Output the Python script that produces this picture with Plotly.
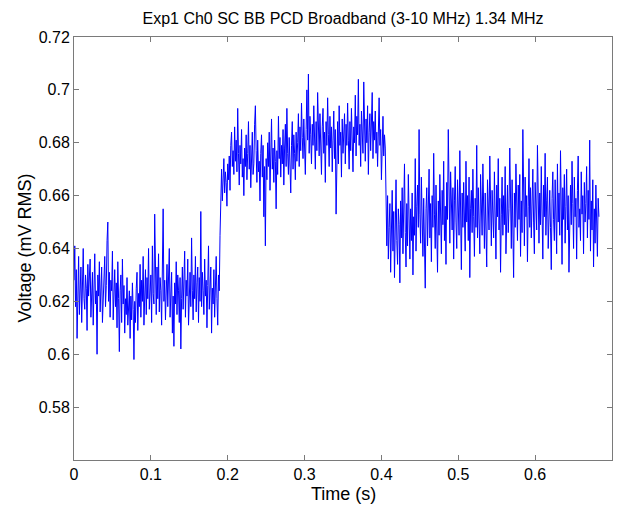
import numpy as np
import plotly.graph_objects as go

# Broadband PCD RMS voltage, sampled every 1 ms, values in microvolts
sample_interval_s = 0.001

baseline_uv = [
    628, 641, 618, 632, 606, 624, 637, 615, 629, 633, 612, 626, 640, 621, 617, 630, 625, 609, 634, 622,
    627, 636, 614, 623, 631, 611, 628, 638, 619, 624, 600, 630, 622, 635, 616, 627, 633, 612, 621, 629,
    637, 618, 626, 643, 650, 620, 631, 614, 628, 624, 639, 613, 622, 632, 618, 627, 610, 635, 621, 601,
    624, 630, 612, 636, 619, 626, 608, 621, 615, 629, 611, 618, 624, 606, 622, 613, 627, 617, 598, 620,
    612, 625, 631, 609, 623, 618, 634, 614, 628, 620, 637, 611, 626, 632, 615, 629, 621, 640, 617, 625,
    630, 612, 641, 623, 619, 653, 627, 615, 633, 621, 638, 616, 629, 624, 611, 636, 655, 620, 628, 613,
    626, 634, 618, 629, 640, 614, 623, 631, 608, 622, 603, 627, 619, 635, 615, 630, 624, 612, 629, 602,
    621, 633, 617, 626, 639, 614, 628, 622, 636, 611, 625, 631, 618, 644, 624, 613, 630, 621, 637, 616,
    627, 633, 612, 629, 620, 654, 618, 631, 624, 615, 636, 622, 628, 610, 626, 641, 617, 623, 633, 608,
    625, 619, 632, 614, 629, 637, 621, 611, 630, 624, 645,
]

exposure_uv = [
    663, 670, 658, 667, 674, 661, 669, 665, 656, 672, 666, 675, 662, 679, 684, 671, 677, 668, 686, 673,
    681, 669, 693, 676, 664, 679, 672, 685, 667, 674, 660, 678, 671, 683, 666, 676, 688, 670, 679, 663,
    675, 684, 668, 672, 687, 694, 677, 665, 681, 669, 673, 658, 676, 683, 667, 679, 652, 671, 641, 674,
    666, 680, 671, 684, 662, 676, 689, 670, 678, 665, 681, 673, 655, 677, 668, 690, 674, 682, 667, 679,
    672, 685, 664, 678, 687, 671, 693, 676, 668, 682, 674, 661, 679, 688, 670, 683, 676, 666, 684, 673,
    680, 691, 671, 686, 677, 695, 682, 674, 689, 679, 668, 685, 700, 681, 706, 676, 690, 683, 672, 687,
    679, 694, 684, 670, 688, 677, 699, 682, 675, 691, 680, 668, 686, 693, 676, 684, 665, 688, 679, 697,
    683, 671, 690, 678, 686, 669, 681, 692, 674, 685, 653, 680, 688, 672, 694, 679, 684, 667, 689, 676,
    683, 691, 672, 687, 679, 695, 681, 670, 688, 677, 693, 684, 669, 686, 680, 698, 675, 690, 683, 704,
    679, 687, 671, 692, 683, 676, 703, 685, 673, 689, 680, 694, 668, 684, 691, 677, 686, 699, 674, 688,
    681, 692, 676, 684, 671, 689, 697, 679, 685, 666, 682, 690, 675, 683, 678,
]

recovery_uv = [
    652, 641, 660, 636, 648, 657, 631, 645, 662, 639, 654, 629, 647, 666, 643, 634, 655, 649, 627, 658,
    644, 663, 638, 651, 672, 646, 633, 657, 641, 668, 649, 636, 655, 643, 661, 630, 652, 645, 674, 639,
    656, 664, 648, 685, 653, 642, 667, 650, 637, 659, 646, 625, 655, 663, 641, 651, 670, 644, 657, 635,
    660, 648, 676, 653, 640, 664, 651, 631, 658, 645, 668, 654, 638, 662, 649, 673, 643, 656, 634, 665,
    651, 685, 659, 642, 669, 655, 647, 663, 636, 658, 671, 650, 640, 666, 653, 645, 677, 657, 632, 661,
    648, 665, 654, 639, 673, 650, 660, 643, 667, 629, 655, 662, 646, 670, 652, 637, 659, 648, 679, 644,
    663, 651, 638, 668, 655, 645, 672, 658, 640, 661, 650, 633, 666, 654, 647, 675, 657, 641, 662, 651,
    644, 669, 656, 636, 664, 652, 674, 647, 659, 631, 653, 667, 645, 660, 649, 671, 638, 657, 664, 646,
    655, 678, 650, 640, 666, 653, 629, 661, 648, 672, 657, 643, 664, 651, 668, 637, 658, 646, 685, 654,
    641, 667, 652, 660, 635, 656, 674, 648, 663, 644, 659, 670, 650, 638, 665, 653, 647, 679, 657, 642,
    661, 649, 671, 655, 636, 664, 652, 676, 645, 658, 667, 640, 654, 662, 648, 632, 659, 669, 651, 643,
    666, 655, 638, 672, 650, 661, 645, 677, 657, 634, 663, 651, 668, 642, 656, 670, 647, 660, 631, 654,
    664, 649, 673, 657, 640, 667, 652, 659, 636, 662, 675, 648, 655, 643, 669, 653, 660, 638, 665, 650,
    657, 671, 644, 662, 651, 681, 639, 658, 647, 666, 633, 655, 642, 664, 650, 637, 659, 652,
]

x_tick_vals = [0, 0.1, 0.2, 0.3, 0.4, 0.5, 0.6, 0.7]
x_tick_text = ["0", "0.1", "0.2", "0.3", "0.4", "0.5", "0.6", "0.7"]
y_tick_vals = [0.58, 0.60, 0.62, 0.64, 0.66, 0.68, 0.70, 0.72]
y_tick_text = ["0.58", "0.6", "0.62", "0.64", "0.66", "0.68", "0.7", "0.72"]

voltage_mv = np.array(baseline_uv + exposure_uv + recovery_uv) / 1000.0
time_s = np.arange(len(voltage_mv)) * sample_interval_s

FONT = "Liberation Sans, Arial, sans-serif"
AXIS_GREY = "#7a7a7a"

fig = go.Figure(
    go.Scatter(
        x=time_s,
        y=voltage_mv,
        mode="lines",
        line=dict(color="#0000ff", width=1.0),
        hoverinfo="skip",
    )
)

axis_common = dict(
    showline=True,
    linecolor=AXIS_GREY,
    linewidth=1,
    mirror="ticks",
    ticks="inside",
    ticklen=5,
    tickcolor=AXIS_GREY,
    showgrid=False,
    zeroline=False,
    tickfont=dict(family=FONT, size=16, color="#000000"),
)

fig.update_xaxes(
    range=[0, 0.7],
    tickvals=x_tick_vals,
    ticktext=x_tick_text,
    **axis_common,
)
fig.update_yaxes(
    range=[0.56, 0.72],
    tickvals=y_tick_vals,
    ticktext=y_tick_text,
    **axis_common,
)

fig.update_layout(
    width=623,
    height=507,
    margin=dict(l=74, r=11, t=37, b=47),
    paper_bgcolor="white",
    plot_bgcolor="white",
    showlegend=False,
    title=dict(
        text="Exp1 Ch0 SC BB PCD Broadband (3-10 MHz) 1.34 MHz",
        font=dict(family=FONT, size=16, color="#000000"),
        x=0.5,
        xref="paper",
        xanchor="center",
        y=1 - 18.5 / 507,
        yref="container",
        yanchor="middle",
    ),
    annotations=[
        dict(
            text="Time (s)",
            x=0.5, xref="paper", xanchor="center",
            y=-34 / 423, yref="paper", yanchor="middle",
            showarrow=False,
            font=dict(family=FONT, size=18, color="#000000"),
        ),
        dict(
            text="Voltage (mV RMS)",
            x=-50 / 538, xref="paper", xanchor="center",
            y=0.5, yref="paper", yanchor="middle",
            textangle=-90,
            showarrow=False,
            font=dict(family=FONT, size=18, color="#000000"),
        ),
    ],
)

fig.write_html("out.html")
